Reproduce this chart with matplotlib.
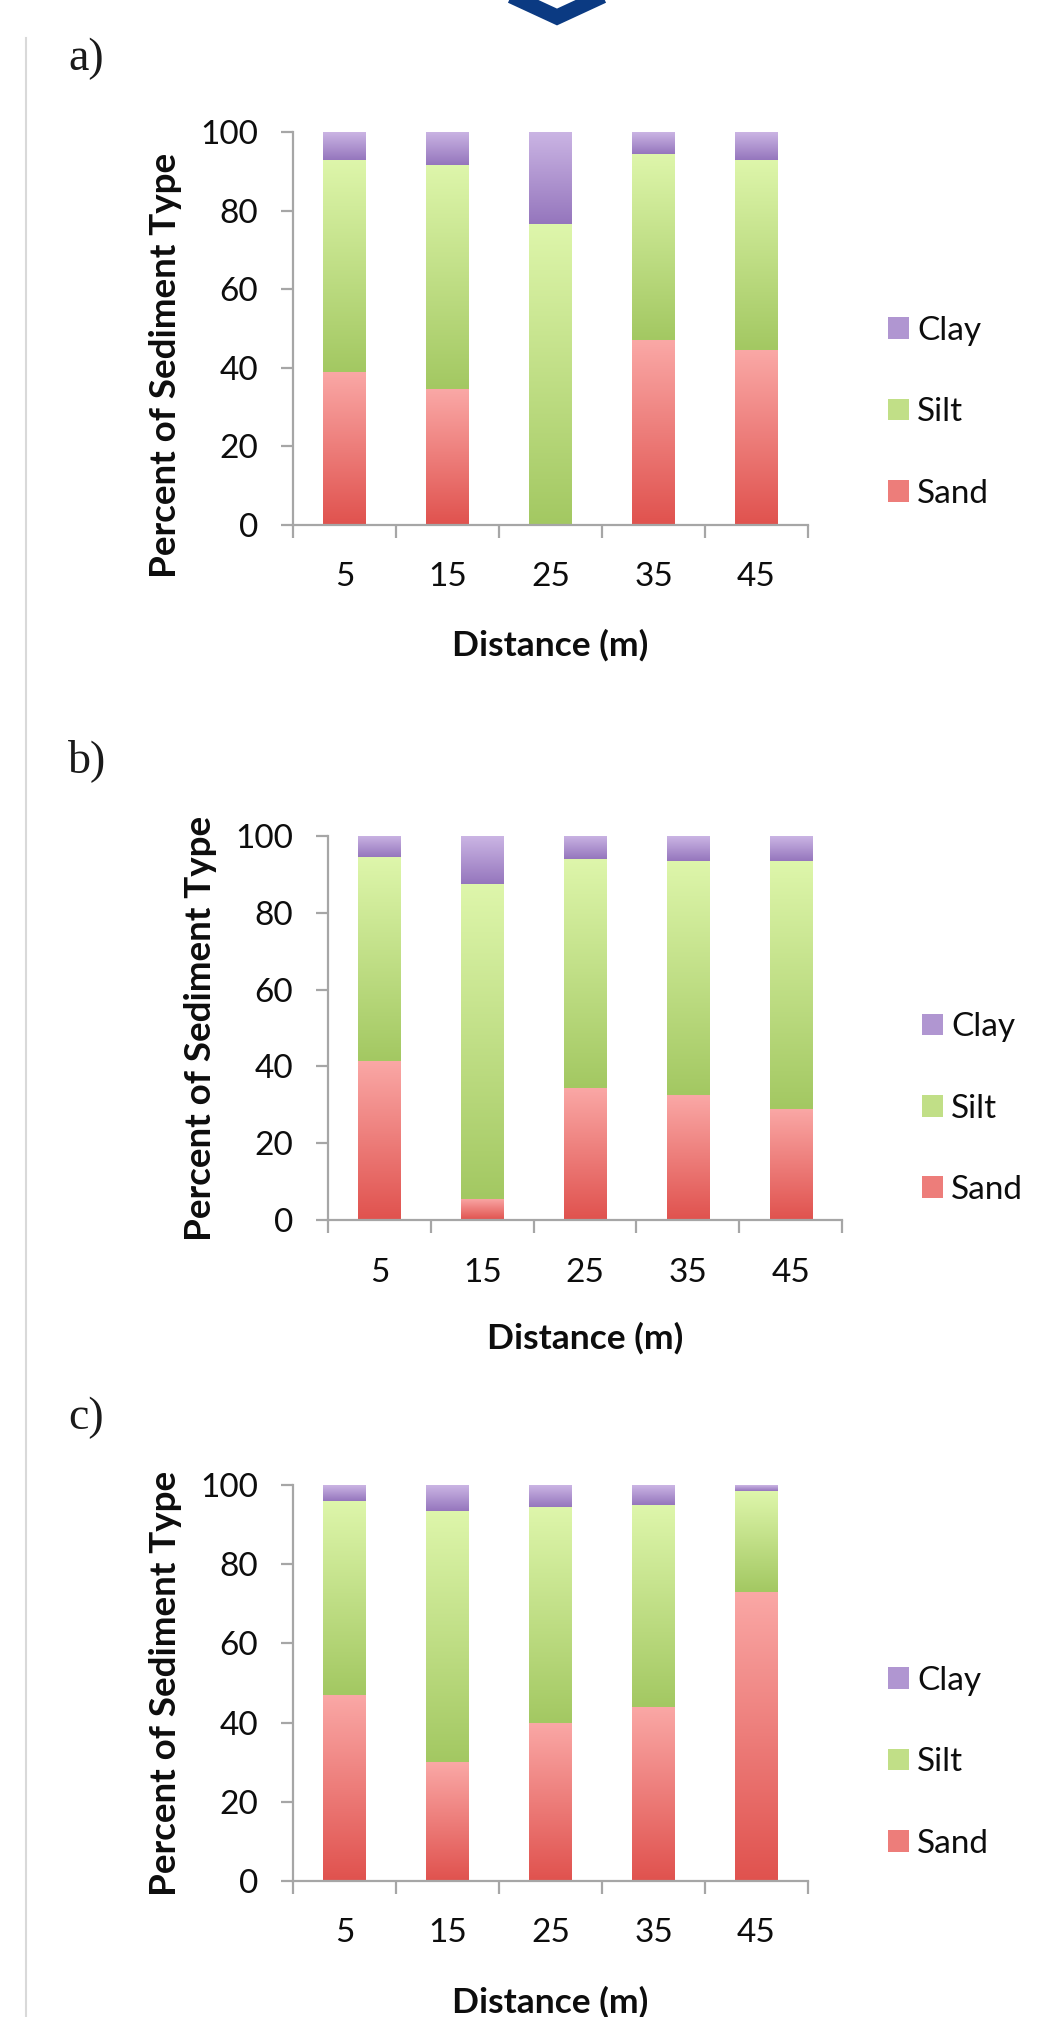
"""Stacked sediment-type bars for three transects (a, b, c)."""

import matplotlib

matplotlib.use("Agg")
import matplotlib.pyplot as plt
import numpy as np
from matplotlib.colors import LinearSegmentedColormap, to_rgb
from matplotlib.lines import Line2D
from matplotlib.patches import Patch

plt.rcParams["font.family"] = ["Lato", "DejaVu Sans"]

distances = ["5", "15", "25", "35", "45"]
panel_tags = ["a)", "b)", "c)"]

# percent of each sediment type, per distance
sand_a = [39, 34.5, 0, 47, 44.5]
silt_a = [54, 57, 76.5, 47.5, 48.5]
clay_a = [7, 8.5, 23.5, 5.5, 7]

sand_b = [41.5, 5.5, 34.5, 32.5, 29]
silt_b = [53, 82, 59.5, 61, 64.5]
clay_b = [5.5, 12.5, 6, 6.5, 6.5]

sand_c = [47, 30, 40, 44, 73]
silt_c = [49, 63.5, 54.5, 51, 25.5]
clay_c = [4, 6.5, 5.5, 5, 1.5]

# (dark bottom, light top) for each type
SAND = ("#e0524e", "#faa8a6")
SILT = ("#a3c862", "#def6ab")
CLAY = ("#9576bd", "#cbb5e4")

TEXT = "#0d0d0d"
W, H = 1043, 2017


def px_rect(left, top, right, bottom):
    """Figure-fraction rect from pixel edges (top-left origin)."""
    return [left / W, 1 - bottom / H, (right - left) / W, (bottom - top) / H]


def gradient_bars(ax, x, values, bottoms, colors):
    bars = ax.bar(x, values, width=0.41, bottom=bottoms, color="none",
                  edgecolor="none", zorder=2)
    cmap = LinearSegmentedColormap.from_list("g", list(colors))
    grad = np.linspace(0, 1, 256).reshape(-1, 1)
    for rect in bars:
        h = rect.get_height()
        if h <= 0:
            continue
        x0, y0 = rect.get_x(), rect.get_y()
        ax.imshow(grad, cmap=cmap, origin="lower", aspect="auto",
                  extent=[x0, x0 + rect.get_width(), y0, y0 + h],
                  interpolation="bilinear", zorder=2)
    return bars


def draw_panel(ax, sand, silt, clay, ylab_y, leg_y):
    x = np.arange(len(distances))
    sand = np.array(sand, dtype=float)
    silt = np.array(silt, dtype=float)
    clay = np.array(clay, dtype=float)
    gradient_bars(ax, x, sand, 0, SAND)
    gradient_bars(ax, x, silt, sand, SILT)
    gradient_bars(ax, x, clay, sand + silt, CLAY)

    ax.set_xlim(-0.5, len(distances) - 0.5)
    ax.set_ylim(0, 100)
    ax.set_yticks(range(0, 101, 20))
    ax.set_xticks(x)
    ax.set_xticklabels(distances)
    ax.set_xticks(np.arange(-0.5, len(distances)), minor=True)

    for side in ["top", "right"]:
        ax.spines[side].set_visible(False)
    for side in ["left", "bottom"]:
        ax.spines[side].set_color("#a6a6a6")
        ax.spines[side].set_linewidth(1.6)

    ax.tick_params(axis="y", direction="out", length=9, width=1.6,
                   color="#a6a6a6", labelsize=24, pad=16, labelcolor=TEXT)
    ax.tick_params(axis="x", which="major", length=0, labelsize=24, pad=27,
                   labelcolor=TEXT)
    ax.tick_params(axis="x", which="minor", direction="out", length=9,
                   width=1.6, color="#a6a6a6")

    ax.set_ylabel("Percent of Sediment Type", fontsize=26.5, fontweight="bold",
                  color=TEXT)
    ax.yaxis.set_label_coords(-0.215, ylab_y)
    ax.set_xlabel("Distance (m)", fontsize=25.5, fontweight="bold", color=TEXT)
    ax.xaxis.set_label_coords(0.5, -0.265)

    handles = []
    for c in [CLAY, SILT, SAND]:
        mid = np.mean([to_rgb(c[0]), to_rgb(c[1])], axis=0)
        handles.append(Patch(facecolor=mid, edgecolor="none"))
    leg = ax.legend(handles, ["Clay", "Silt", "Sand"], loc="center left",
                    bbox_to_anchor=(1.155, leg_y), frameon=False, fontsize=24,
                    handlelength=0.63, handleheight=0.63, handletextpad=0.25,
                    labelspacing=1.54, borderpad=0, borderaxespad=0)
    for t in leg.get_texts():
        t.set_color(TEXT)


def main():
    fig = plt.figure(figsize=(W / 100, H / 100), dpi=100)

    panels = [
        (px_rect(293, 132, 808, 525), sand_a, silt_a, clay_a, 0.405, 0.287, (68, 59)),
        (px_rect(328, 836, 842, 1220), sand_b, silt_b, clay_b, 0.5, 0.29, (68, 761)),
        (px_rect(293, 1485, 808, 1881), sand_c, silt_c, clay_c, 0.5, 0.30, (68, 1418)),
    ]
    for tag, (rect, sand, silt, clay, ylab_y, leg_y, tag_xy) in zip(panel_tags, panels):
        ax = fig.add_axes(rect)
        draw_panel(ax, sand, silt, clay, ylab_y, leg_y)
        fig.text(tag_xy[0] / W, 1 - tag_xy[1] / H, tag, fontsize=33,
                 family=["Liberation Serif", "DejaVu Serif"], ha="left",
                 va="center", color="#1a1a1a")

    # page furniture: thin rule on the left and the navy chevron at the top
    fig.add_artist(Line2D([26 / W, 26 / W], [1 - 38 / H, 0], color="#d9d9d9",
                          linewidth=1.5, transform=fig.transFigure))
    fig.add_artist(Line2D([490 / W, 557 / W, 624 / W],
                          [1 + 14 / H, 1 - 17 / H, 1 + 14 / H],
                          color="#0b3a82", linewidth=11,
                          solid_joinstyle="miter", transform=fig.transFigure))

    fig.savefig("out.png", dpi=100)
    plt.close(fig)


if __name__ == "__main__":
    main()
